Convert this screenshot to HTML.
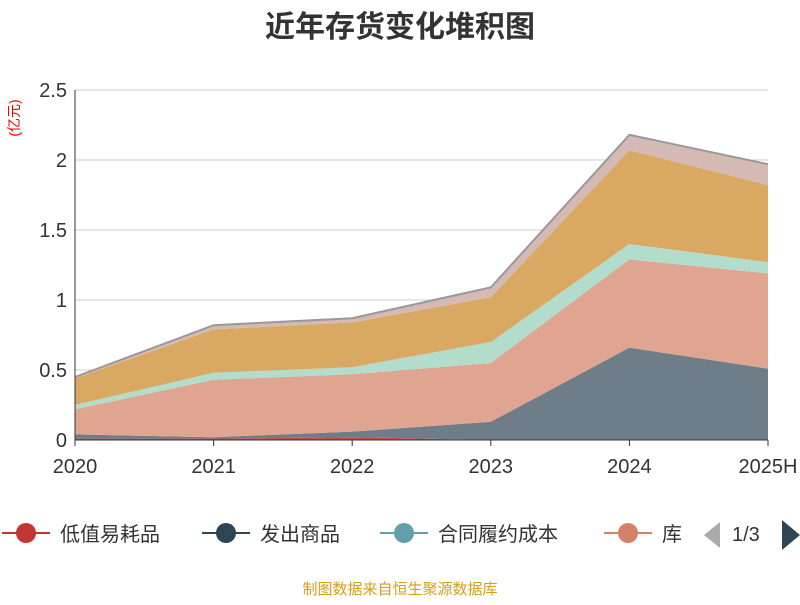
<!DOCTYPE html>
<html><head><meta charset="utf-8"><style>
body{margin:0;background:#fff;font-family:"Liberation Sans","Noto Sans CJK SC",sans-serif}
</style></head><body>
<svg width="800" height="600" xmlns="http://www.w3.org/2000/svg" id="svg" font-family="Liberation Sans, Noto Sans CJK SC, sans-serif">
<text x="400" y="37" text-anchor="middle" font-size="30" font-weight="bold" fill="#333">近年存货变化堆积图</text>
<text transform="translate(19,118) rotate(-90)" text-anchor="middle" font-size="14" fill="#e00">(亿元)</text>
<g id="grid"></g><g id="areas"></g><g id="axes"></g>
<g font-size="20" fill="#333">
<g><line x1="2" y1="533" x2="50" y2="533" stroke="#c23531" stroke-width="2"/><circle cx="26" cy="533" r="10" fill="#c23531"/><text x="60" y="541">低值易耗品</text></g>
<g><line x1="202" y1="533" x2="250" y2="533" stroke="#2f4554" stroke-width="2"/><circle cx="226" cy="533" r="10" fill="#2f4554"/><text x="260" y="541">发出商品</text></g>
<g><line x1="380" y1="533" x2="428" y2="533" stroke="#61a0a8" stroke-width="2"/><circle cx="404" cy="533" r="10" fill="#61a0a8"/><text x="438" y="541">合同履约成本</text></g>
<g><line x1="604" y1="533" x2="652" y2="533" stroke="#d48265" stroke-width="2"/><circle cx="628" cy="533" r="10" fill="#d48265"/><text x="662" y="541">库</text></g>
<path d="M720 522 L704 535 L720 548Z" fill="#aaa"/>
<text x="732" y="541">1/3</text>
<path d="M782 520 L800 535 L782 550Z" fill="#2f4554"/>
</g>
<text x="400" y="594" text-anchor="middle" font-size="15" fill="#d4a017">制图数据来自恒生聚源数据库</text>
</svg>
<script>
const categories=["2020","2021","2022","2023","2024","2025H"];
const yTicks=[0,0.5,1,1.5,2,2.5];
const yTickLabels=["0","0.5","1","1.5","2","2.5"];
const lowValue=[0.01,0.01,0.02,0.0,0.0,0.0];
const shipped=[0.03,0.01,0.04,0.13,0.66,0.51];
const stock=[0.18,0.41,0.41,0.42,0.63,0.68];
const contract=[0.03,0.05,0.05,0.15,0.11,0.08];
const material=[0.19,0.31,0.32,0.32,0.67,0.55];
const other=[0.01,0.03,0.03,0.07,0.11,0.15];
const NS="http://www.w3.org/2000/svg";
const x0=75,x1=768,y0=440,yTop=90,yMax=2.5;
const X=i=>x0+i*(x1-x0)/(categories.length-1);
const Y=v=>y0-v/yMax*(y0-yTop);
function mk(t,a,p){const e=document.createElementNS(NS,t);for(const k in a)e.setAttribute(k,a[k]);p.appendChild(e);return e;}
const grid=document.getElementById('grid'),axes=document.getElementById('axes'),areas=document.getElementById('areas');
yTicks.forEach((v,i)=>{
 const l=mk('line',{x1:x0,x2:x1,y1:Y(v),y2:Y(v),stroke:'#ccc'},grid);
 
 
 const t=mk('text',{x:x0-8,y:Y(v)+7,'text-anchor':'end','font-size':20,fill:'#333'},axes);
 t.textContent=yTickLabels[i];
 
 
});
const series=[[lowValue,'#c23531',0.9,'low-value'],[shipped,'#6e7d88',1,'goods-shipped'],[stock,'#e0a591',1,'stock'],[contract,'#b2dccb',1,'contract-cost'],[material,'#d9a963',1,'material'],[other,'#d5b9b5',1,'other']];
let base=categories.map(()=>0);
series.forEach(([vals,col,op,name])=>{
 const top=base.map((b,i)=>b+vals[i]);
 let d='';
 top.forEach((v,i)=>d+=(i?'L':'M')+X(i)+' '+Y(v));
 for(let i=base.length-1;i>=0;i--)d+='L'+X(i)+' '+Y(base[i]);
 const p=mk('path',{d:d+'Z',fill:col,'fill-opacity':op},areas);
 
 
 base=top;
});
let d='';base.forEach((v,i)=>d+=(i?'L':'M')+X(i)+' '+Y(v));
const tl=mk('path',{d,fill:'none',stroke:'#999',"stroke-width":2},areas);


const ax=mk('line',{x1:x0,x2:x1,y1:y0,y2:y0,stroke:'#333'},axes);


const ay=mk('line',{x1:x0,x2:x0,y1:y0,y2:yTop,stroke:'#333'},axes);


categories.forEach((c,i)=>{
 const tk=mk('line',{x1:X(i),x2:X(i),y1:y0,y2:y0+6,stroke:'#333'},axes);
 
 
 const t=mk('text',{x:X(i),y:y0+33,'text-anchor':'middle','font-size':20,fill:'#333'},axes);
 t.textContent=c;
 
 
});
</script>
</body></html>
